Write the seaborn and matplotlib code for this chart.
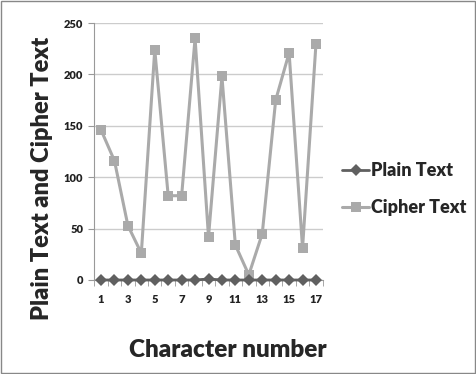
import numpy as np
import pandas as pd
import matplotlib
matplotlib.use("Agg")
import matplotlib.pyplot as plt
import seaborn as sns
from matplotlib.ticker import FixedLocator

char_num = list(range(1, 18))
plain_text = [0, 0, 0, 0, 0, 0, 0, 0, 1, 0, 0, 0, 0, 0, 0, 0, 0]
cipher_text = [146, 116, 53, 26, 224, 82, 82, 235, 42, 198, 34, 5, 45, 175, 221, 31, 230]

df = pd.DataFrame({"Character number": char_num * 2,
                   "value": plain_text + cipher_text,
                   "series": ["Plain Text"] * 17 + ["Cipher Text"] * 17})

sns.set_style("white")
plt.rcParams['font.family'] = ['Lato', 'DejaVu Sans']

fig = plt.figure(figsize=(4.76, 3.74), dpi=100)
ax = fig.add_axes([94.3 / 476, 1 - 280 / 374, (322.7 - 94.3) / 476, (280 - 23) / 374])

palette = {"Plain Text": "#606060", "Cipher Text": "#aaaaaa"}
sns.lineplot(data=df[df.series == "Cipher Text"], x="Character number", y="value",
             color=palette["Cipher Text"], marker="s", markersize=7.5, linewidth=2.2,
             markeredgewidth=0, ax=ax, label="Cipher Text")
sns.lineplot(data=df[df.series == "Plain Text"], x="Character number", y="value",
             color=palette["Plain Text"], marker="D", markersize=6.5, linewidth=2,
             markeredgewidth=0, ax=ax, label="Plain Text", clip_on=False, zorder=5)

ax.set_xlim(0.5, 17.5)
ax.set_ylim(0, 250)
ax.set_yticks([0, 50, 100, 150, 200, 250])
ax.set_xticks([1, 3, 5, 7, 9, 11, 13, 15, 17])
ax.xaxis.set_minor_locator(FixedLocator(np.arange(0.5, 18, 1)))
ax.tick_params(axis="x", which="major", length=0, pad=10, labelsize=8)
ax.tick_params(axis="x", which="minor", length=4, color="#999999", bottom=True)
ax.tick_params(axis="y", length=4, color="#999999", left=True, labelsize=8, pad=4)
for lbl in ax.get_xticklabels() + ax.get_yticklabels():
    lbl.set_fontweight("heavy")
    lbl.set_color("#222222")

ax.grid(axis="y", color="#cccccc", linewidth=1)
ax.set_axisbelow(True)
for s in ["top", "right"]:
    ax.spines[s].set_visible(False)
ax.spines["left"].set_color("#999999")
ax.spines["bottom"].set_color("#999999")

ax.set_xlabel("Character number", fontsize=17.5, fontweight="heavy")
ax.set_ylabel("Plain Text and Cipher Text", fontsize=17, fontweight="heavy")
ax.xaxis.label.set_va("center")
ax.yaxis.label.set_va("center")
ax.xaxis.set_label_coords(0.583, -0.272)
ax.yaxis.set_label_coords(-0.229, 0.397)

handles, labels = ax.get_legend_handles_labels()
order = [labels.index("Plain Text"), labels.index("Cipher Text")]
ax.legend([handles[i] for i in order], [labels[i] for i in order],
          loc="center left", bbox_to_anchor=(1.085, 0.354), frameon=False,
          prop={"weight": "heavy", "size": 13}, handlelength=1.5,
          handletextpad=0.1, labelspacing=1.1, borderpad=0, borderaxespad=0)

border = plt.Rectangle((0.003, 0.003), 0.994, 0.994, transform=fig.transFigure,
                       fill=False, edgecolor="#888888", linewidth=1)
fig.patches.append(border)

fig.savefig("out.png", dpi=100)
